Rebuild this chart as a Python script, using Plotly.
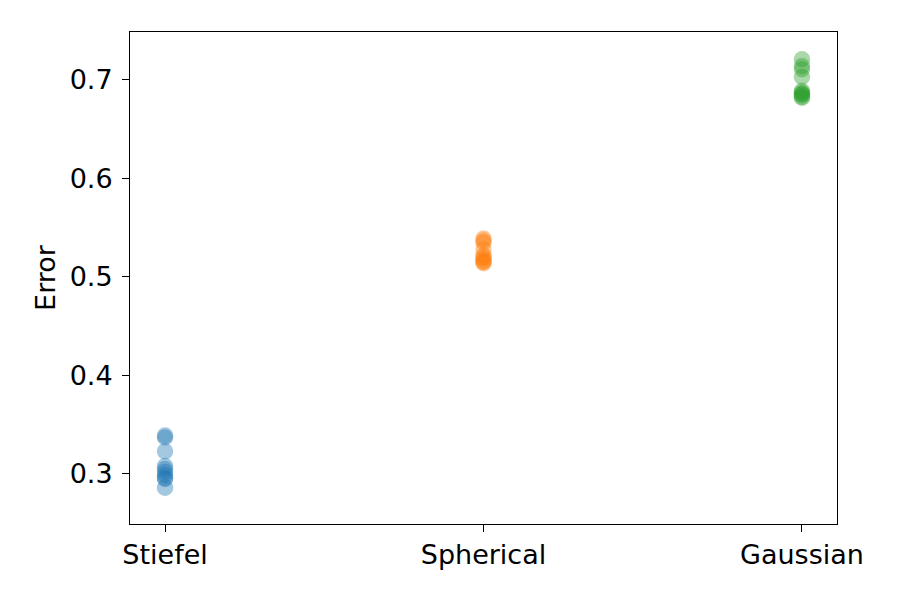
import plotly.graph_objects as go

categories = ["Stiefel", "Spherical", "Gaussian"]
stiefel = [0.339, 0.337, 0.323, 0.308, 0.305, 0.302, 0.299, 0.296, 0.295, 0.286]
spherical = [0.539, 0.537, 0.535, 0.528, 0.522, 0.520, 0.518, 0.516, 0.515, 0.514]
gaussian = [0.721, 0.714, 0.711, 0.703, 0.689, 0.687, 0.686, 0.685, 0.683, 0.682]
series = [stiefel, spherical, gaussian]
colors = ["#1f77b4", "#ff7f0e", "#2ca02c"]
yticks = [0.3, 0.4, 0.5, 0.6, 0.7]

fig = go.Figure()
for i, (vals, c) in enumerate(zip(series, colors)):
    fig.add_trace(go.Scatter(
        x=[i] * len(vals), y=vals, mode="markers",
        marker=dict(size=15, color=c, opacity=0.4, line=dict(color=c, width=1.5)),
        showlegend=False,
    ))

fig.update_layout(
    width=884, height=584,
    margin=dict(l=122, r=55, t=24, b=68),
    plot_bgcolor="white", paper_bgcolor="white",
    font=dict(family="DejaVu Sans", size=27, color="black"),
)
fig.update_xaxes(
    range=[-0.11, 2.11], tickvals=[0, 1, 2], ticktext=categories,
    showline=True, linecolor="black", linewidth=1, mirror=True,
    ticks="outside", ticklen=7, tickcolor="black", showgrid=False, zeroline=False,
    tickfont=dict(size=27),
)
fig.update_yaxes(
    range=[0.2492, 0.7487], tickvals=yticks, ticktext=[f"{v:.1f}" for v in yticks],
    showline=True, linecolor="black", linewidth=1, mirror=True,
    ticks="outside", ticklen=7, tickcolor="black", showgrid=False, zeroline=False,
    tickfont=dict(size=27), ticklabelstandoff=4,
    title=dict(text="Error", standoff=6, font=dict(size=27)),
)
fig.write_html("out.html")
